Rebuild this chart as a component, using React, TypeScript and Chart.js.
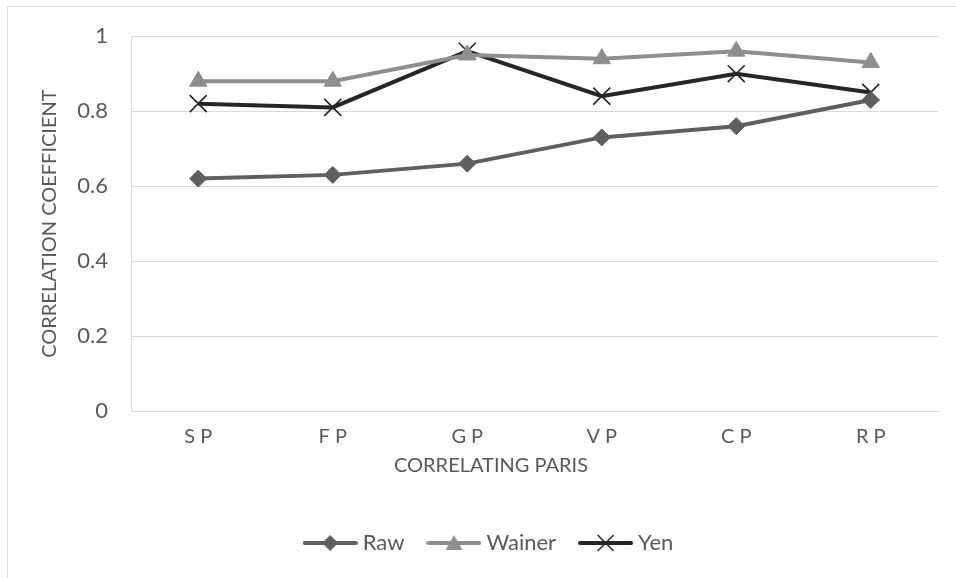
import React, { useEffect, useRef } from 'react';
import { Chart, registerables } from 'chart.js';

Chart.register(...registerables);

// ---- data ----
const categories = ['S P', 'F P', 'G P', 'V P', 'C P', 'R P'];
const rawValues = [0.62, 0.63, 0.66, 0.73, 0.76, 0.83];
const wainerValues = [0.88, 0.88, 0.95, 0.94, 0.96, 0.93];
const yenValues = [0.82, 0.81, 0.96, 0.84, 0.9, 0.85];
const yTickValues = [0, 0.2, 0.4, 0.6, 0.8, 1];
const seriesNames = ['Raw', 'Wainer', 'Yen'];
const yAxisTitle = 'CORRELATION COEFFICIENT';
const xAxisTitle = 'CORRELATING PARIS';

const TEXT = '#595959';
const GRID = '#d9d9d9';
const RAW_C = '#5f5f5f';
const WAINER_C = '#8e8e8e';
const YEN_C = '#262626';
const FONT = { family: 'Lato', size: 22, weight: 'normal' as const };
const CAPS_FONT = { family: 'Lato', size: 20, weight: 'normal' as const };

function makeIcon(kind: 'diamond' | 'triangle' | 'cross', color: string) {
  const c = document.createElement('canvas');
  c.width = 55;
  c.height = 24;
  const ctx = c.getContext('2d')!;
  const cx = 27.5;
  const cy = 12;
  ctx.strokeStyle = color;
  ctx.lineWidth = 4;
  ctx.lineCap = 'round';
  ctx.beginPath();
  ctx.moveTo(2, cy);
  ctx.lineTo(53, cy);
  ctx.stroke();
  ctx.fillStyle = color;
  if (kind === 'diamond') {
    ctx.beginPath();
    ctx.moveTo(cx, cy - 8);
    ctx.lineTo(cx + 8, cy);
    ctx.lineTo(cx, cy + 8);
    ctx.lineTo(cx - 8, cy);
    ctx.closePath();
    ctx.fill();
  } else if (kind === 'triangle') {
    ctx.beginPath();
    ctx.moveTo(cx, cy - 8);
    ctx.lineTo(cx + 8.5, cy + 7);
    ctx.lineTo(cx - 8.5, cy + 7);
    ctx.closePath();
    ctx.fill();
  } else {
    ctx.lineWidth = 1.6;
    ctx.lineCap = 'butt';
    ctx.beginPath();
    ctx.moveTo(cx - 8, cy - 8);
    ctx.lineTo(cx + 8, cy + 8);
    ctx.moveTo(cx + 8, cy - 8);
    ctx.lineTo(cx - 8, cy + 8);
    ctx.stroke();
  }
  return c;
}

export default function App() {
  const ref = useRef<HTMLCanvasElement>(null);

  useEffect(() => {
    const canvas = ref.current!;
    const icons = [
      makeIcon('diamond', RAW_C),
      makeIcon('triangle', WAINER_C),
      makeIcon('cross', YEN_C),
    ];
    const chart = new Chart(canvas, {
      type: 'line',
      data: {
        labels: categories,
        datasets: [
          {
            label: seriesNames[0],
            data: rawValues,
            borderColor: RAW_C,
            backgroundColor: RAW_C,
            borderWidth: 4,
            pointStyle: 'rectRot',
            pointRadius: 8.5,
            pointBackgroundColor: RAW_C,
            pointBorderColor: RAW_C,
            pointBorderWidth: 1,
            tension: 0,
          },
          {
            label: seriesNames[1],
            data: wainerValues,
            borderColor: WAINER_C,
            backgroundColor: WAINER_C,
            borderWidth: 4,
            pointStyle: 'triangle',
            pointRadius: 10,
            pointBackgroundColor: WAINER_C,
            pointBorderColor: WAINER_C,
            pointBorderWidth: 1,
            tension: 0,
          },
          {
            label: seriesNames[2],
            data: yenValues,
            borderColor: YEN_C,
            backgroundColor: YEN_C,
            borderWidth: 4,
            pointStyle: 'crossRot',
            pointRadius: 12,
            pointBorderColor: YEN_C,
            pointBorderWidth: 1.6,
            tension: 0,
          },
        ],
      },
      options: {
        responsive: false,
        animation: false,
        devicePixelRatio: 1,
        layout: { padding: { left: 0, right: 0, top: 36, bottom: 14 } },
        scales: {
          x: {
            type: 'category',
            offset: true,
            grid: { display: false, drawTicks: false },
            border: { display: true, color: GRID, width: 1 },
            ticks: { color: TEXT, font: CAPS_FONT, padding: 14, maxRotation: 0 },
            afterFit: (s: any) => {
              s.height = 40;
            },
          },
          y: {
            type: 'linear',
            position: 'left',
            min: 0,
            max: 1,
            afterBuildTicks: (s: any) => {
              s.ticks = yTickValues.map((v) => ({ value: v }));
            },
            ticks: {
              color: TEXT,
              font: FONT,
              padding: 23,
              callback: (v: any) => String(Number(v)),
            },
            grid: { color: GRID, lineWidth: 1, drawTicks: false },
            border: { display: true, color: GRID, width: 1 },
            title: {
              display: true,
              text: yAxisTitle,
              color: TEXT,
              font: CAPS_FONT,
              padding: { top: 38, bottom: 0 },
            },
            afterFit: (s: any) => {
              s.width = 131;
            },
          },
          yR: {
            type: 'linear',
            position: 'right',
            display: true,
            grid: { display: false },
            border: { display: false },
            ticks: { display: false },
            afterFit: (s: any) => {
              s.width = 44;
            },
          },
        },
        plugins: {
          legend: {
            position: 'bottom',
            labels: {
              usePointStyle: true,
              pointStyleWidth: 43,
              padding: 28,
              color: TEXT,
              font: FONT,
              generateLabels: (ch: any) => {
                const items = Chart.defaults.plugins.legend.labels.generateLabels(ch);
                return items.map((it: any, i: number) => ({ ...it, pointStyle: icons[i] }));
              },
            },
          },
          title: {
            display: true,
            position: 'bottom',
            text: xAxisTitle,
            color: TEXT,
            font: CAPS_FONT,
            padding: { top: 3, bottom: 26 },
            weight: 500,
          } as any,
          tooltip: { enabled: false },
        },
      },
    });
    return () => chart.destroy();
  }, []);

  return (
    <div
      style={{
        position: 'fixed',
        left: 0,
        top: 0,
        width: 956,
        height: 578,
        overflow: 'hidden',
        background: '#ffffff',
      }}
    >
      <canvas
        ref={ref}
        width={982}
        height={578}
        style={{ position: 'absolute', left: 0, top: 0, width: 982, height: 578 }}
      />
      <div
        style={{
          position: 'absolute',
          left: 7,
          top: 6,
          width: 2000,
          height: 2000,
          border: `1px solid ${GRID}`,
          pointerEvents: 'none',
        }}
      />
    </div>
  );
}
